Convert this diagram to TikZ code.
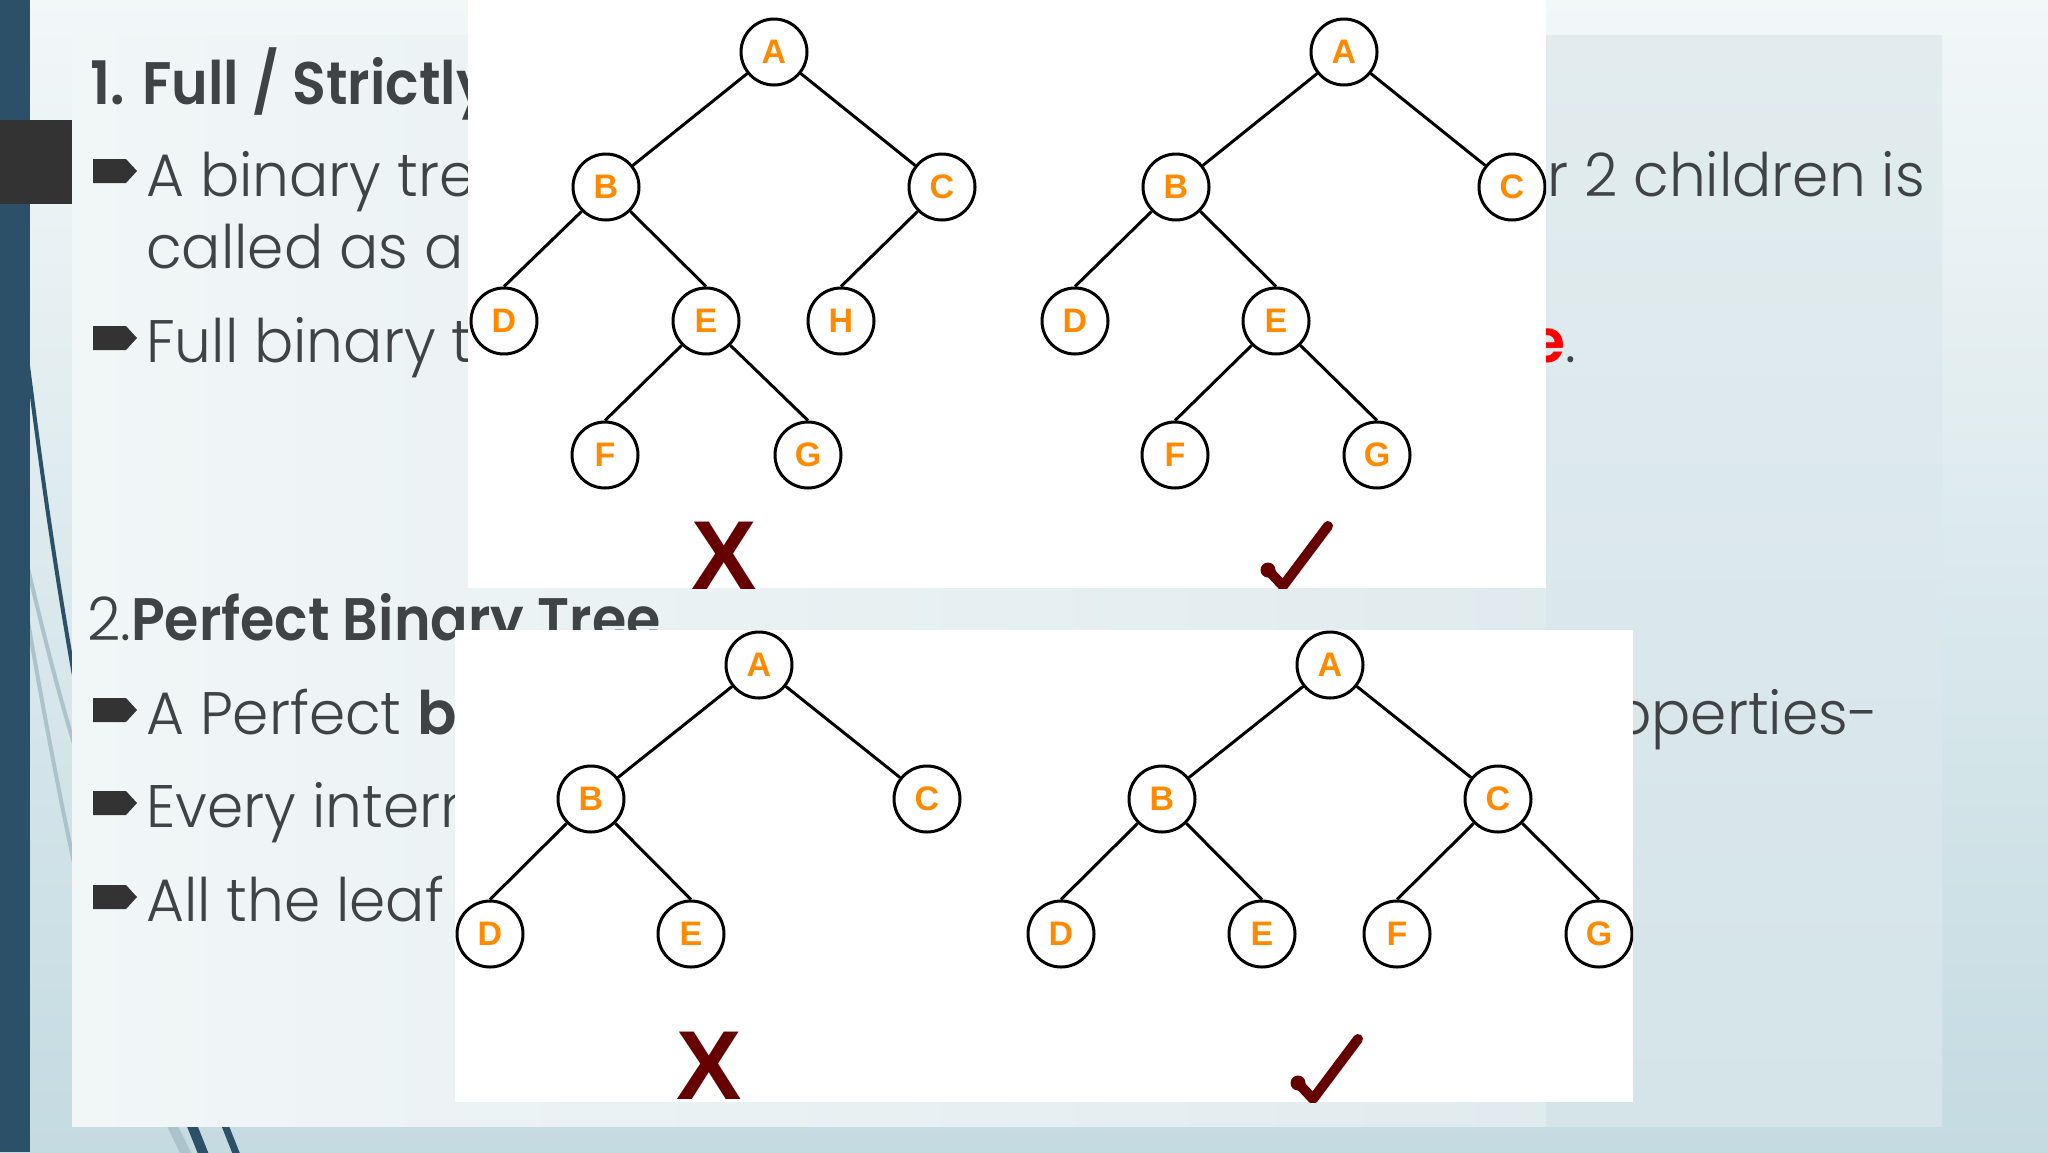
\documentclass[tikz,border=0pt]{standalone}
\usepackage{graphicx}
\usepackage{fontspec}
\setmainfont{Poppins}[UprightFont=* Light, BoldFont=* SemiBold]
\newfontfamily\lettersfont{Liberation Sans}
\newcommand\hsbody[1]{\scalebox{0.97}[1]{#1}}
\newcommand\hsbold[1]{\scalebox{0.925}[1]{#1}}
\definecolor{stripblue}{HTML}{2D5069}
\definecolor{squaregray}{HTML}{333333}
\definecolor{bgtop}{HTML}{F2F7F8}
\definecolor{bgbottom}{HTML}{C4DBE1}
\definecolor{panelleft}{HTML}{F1F6F7}
\definecolor{panelright}{HTML}{DCE8EC}
\definecolor{blocktop}{HTML}{E2ECEF}
\definecolor{blockbottom}{HTML}{D4E4E8}
\definecolor{textgray}{HTML}{3F4346}
\definecolor{bulletgray}{HTML}{333333}
\definecolor{nodeorange}{HTML}{FF8A00}
\definecolor{markred}{HTML}{660000}
\definecolor{palestroke}{HTML}{ADC3CB}
\begin{document}
\begin{tikzpicture}[x=1pt,y=-1pt,
  tnode/.style={circle, draw=black, line width=3pt, fill=white, minimum size=66pt, inner sep=0pt,
    text=nodeorange, font=\lettersfont\bfseries\fontsize{34}{34}\selectfont},
  edge/.style={line width=3pt, black},
  bodytxt/.style={anchor=base west, inner sep=0pt, text=textgray, font=\fontsize{60}{72}\selectfont},
  markx/.style={inner sep=0pt, text=markred, font=\lettersfont\bfseries\fontsize{98}{98}\selectfont},
  arrowbullet/.pic={\fill[bulletgray] (-22,-12) -- (11,-12) -- (22,0) -- (11,12) -- (-22,12) -- cycle;},
  checkmk/.pic={\draw[markred, line width=10pt, line cap=round, line join=round] (-15,-16) -- (0,0) -- (45,-60);
    \fill[markred] (-15,-16) circle (7.5);}
]
\useasboundingbox (0,0) rectangle (2048,1152);
% backgrounds
\shade[top color=bgtop, bottom color=bgbottom] (0,0) rectangle (2048,1152);
\draw[stripblue, line width=4pt] (26,350) .. controls (45,500) and (60,600) .. (82,720);
\draw[palestroke, line width=4pt] (26,560) .. controls (45,640) and (60,700) .. (82,770);
\draw[palestroke, line width=4pt] (26,610) .. controls (45,720) and (60,800) .. (82,900);
\draw[palestroke, line width=10pt] (169.6,1120) -- (188,1158);
\draw[stripblue, line width=10pt] (189.8,1120) -- (205,1158);
\draw[stripblue, line width=7pt] (222.9,1120) -- (238,1158);
\fill[stripblue] (0,0) rectangle (30,1152);
\shade[left color=panelleft, right color=panelright] (72,35) rectangle (1942,1126);
\shade[top color=blocktop, bottom color=blockbottom] (1546,35) rectangle (1942,1126);
\fill[squaregray] (0,120) rectangle (72,204);
% texts
\node[bodytxt, font=\fontsize{60}{72}\selectfont\bfseries] (title1) at (90,104) {\hsbold{1. Full / Strictly}};
\pic at (115,171) {arrowbullet};
\node[bodytxt] (l1a) at (146,196) {\hsbody{A binary tre}};
\node[bodytxt] (l1b) at (1547,196) {\hsbody{r 2 children is}};
\node[bodytxt] (l2) at (146,268) {\hsbody{called as a}};
\pic at (115,338) {arrowbullet};
\node[bodytxt] (l3a) at (146,362) {\hsbody{Full binary t}};
\node[bodytxt, anchor=base east] (l3b) at (1576,362) {\hsbody{{\bfseries\color{red}e}.}};
\node[bodytxt] (title2) at (87,640) {\hsbody{2.}\hsbold{\bfseries Perfect Binary Tree}};
\pic at (115,710) {arrowbullet};
\node[bodytxt] (p1a) at (146,734) {\hsbody{A Perfect \textbf{b}}};
\node[bodytxt] (p1b) at (1614,734) {\hsbody{operties-}};
\pic at (115,803) {arrowbullet};
\node[bodytxt] (p2) at (146,827) {\hsbody{Every intern}};
\pic at (115,897) {arrowbullet};
\node[bodytxt] (p3) at (146,921) {\hsbody{All the leaf}};
% top image
\begin{scope}
\clip (468,0) rectangle (1546,588);
\fill[white] (468,0) rectangle (1546,588);
\node[tnode] (aA) at (774,52) {A};
\node[tnode] (aB) at (606,187) {B};
\node[tnode] (aC) at (942,187) {C};
\node[tnode] (aD) at (504,321) {D};
\node[tnode] (aE) at (706,321) {E};
\node[tnode] (aH) at (841,321) {H};
\node[tnode] (aF) at (605,455) {F};
\node[tnode] (aG) at (808,455) {G};
\draw[edge] (aA) -- (aB); \draw[edge] (aA) -- (aC);
\draw[edge] (aB.south west) -- (aD.north); \draw[edge] (aB.south east) -- (aE.north);
\draw[edge] (aC.south west) -- (aH.north);
\draw[edge] (aE.south west) -- (aF.north); \draw[edge] (aE.south east) -- (aG.north);
\node[markx] (xa) at (724,556) {X};
\node[tnode] (bA) at (1344,52) {A};
\node[tnode] (bB) at (1176,187) {B};
\node[tnode] (bC) at (1512,187) {C};
\node[tnode] (bD) at (1075,321) {D};
\node[tnode] (bE) at (1276,321) {E};
\node[tnode] (bF) at (1175,455) {F};
\node[tnode] (bG) at (1377,455) {G};
\draw[edge] (bA) -- (bB); \draw[edge] (bA) -- (bC);
\draw[edge] (bB.south west) -- (bD.north); \draw[edge] (bB.south east) -- (bE.north);
\draw[edge] (bE.south west) -- (bF.north); \draw[edge] (bE.south east) -- (bG.north);
\pic at (1283,586) {checkmk};
\end{scope}
% bottom image
\begin{scope}
\clip (455,630) rectangle (1633,1102);
\fill[white] (455,630) rectangle (1633,1102);
\node[tnode] (cA) at (759,665) {A};
\node[tnode] (cB) at (591,799) {B};
\node[tnode] (cC) at (927,799) {C};
\node[tnode] (cD) at (490,934) {D};
\node[tnode] (cE) at (691,934) {E};
\draw[edge] (cA) -- (cB); \draw[edge] (cA) -- (cC);
\draw[edge] (cB.south west) -- (cD.north); \draw[edge] (cB.south east) -- (cE.north);
\node[markx] (xc) at (709,1066) {X};
\node[tnode] (dA) at (1330,665) {A};
\node[tnode] (dB) at (1162,799) {B};
\node[tnode] (dC) at (1498,799) {C};
\node[tnode] (dD) at (1061,934) {D};
\node[tnode] (dE) at (1262,934) {E};
\node[tnode] (dF) at (1397,934) {F};
\node[tnode] (dG) at (1599,934) {G};
\draw[edge] (dA) -- (dB); \draw[edge] (dA) -- (dC);
\draw[edge] (dB.south west) -- (dD.north); \draw[edge] (dB.south east) -- (dE.north);
\draw[edge] (dC.south west) -- (dF.north); \draw[edge] (dC.south east) -- (dG.north);
\pic at (1313,1099) {checkmk};
\end{scope}
\end{tikzpicture}
\end{document}
